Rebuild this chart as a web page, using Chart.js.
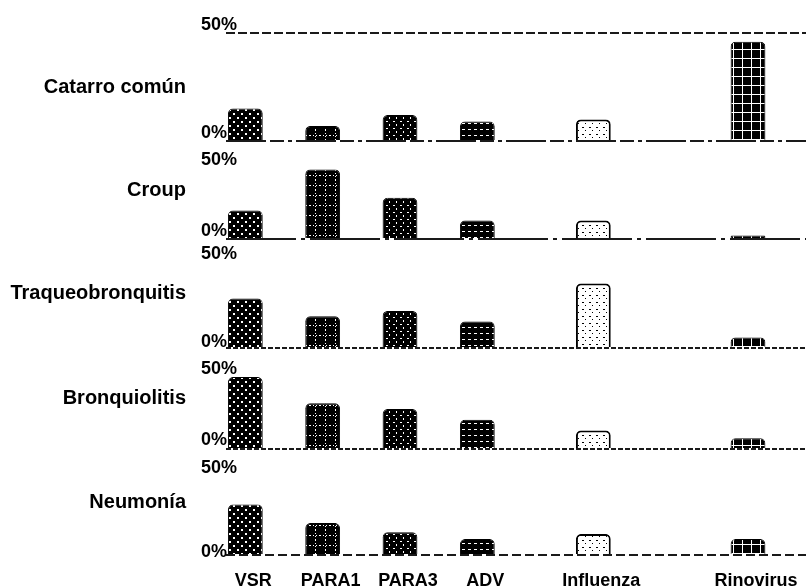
<!DOCTYPE html>
<html lang="es">
<head>
<meta charset="UTF-8">
<title>Virus respiratorios por síndrome</title>
<script src="https://cdn.jsdelivr.net/npm/chart.js"></script>
<style>
  html, body { margin: 0; padding: 0; background: #fff; }
  #caja { position: relative; width: 806px; height: 587px; }
</style>
</head>
<body>
<div id="caja"><canvas id="grafico"></canvas></div>
<script>
// categorías del eje x; los huecos vacíos separan los grupos como en el original
const virus = ['VSR', '', 'PARA1', '', 'PARA3', '', 'ADV', '', '', 'Influenza', '', '', '', 'Rinovirus', ''];
const sindromes = ['Catarro común', 'Croup', 'Traqueobronquitis', 'Bronquiolitis', 'Neumonía'];
// % por virus: VSR, PARA1, PARA3, ADV, Influenza, Rinovirus
const catarroComun = [15, 7, 12, 9, 10, 46];
const croup = [20, 49, 29, 13, 13, 2.5];
const traqueobronquitis = [28, 18, 21, 15, 36.5, 6];
const bronquiolitis = [50.5, 32, 28, 20.5, 13, 7.5];
const neumonia = [30, 19, 13.5, 9.5, 12.5, 9.5];
const ticksY = [0, 50];

const nombresVirus = virus.filter(v => v !== '');
function aRanuras(valores) {
    return virus.map(v => v === '' ? null : valores[nombresVirus.indexOf(v)]);
}

// ajustes de cada panel (tope del eje, alto relativo, trazo de la línea base)
const paneles = [
    { datos: catarroComun, max: 50, peso: 108, offset: -8, trazo: [40, 4, 14, 4, 4, 4] },
    { datos: croup, max: 69, peso: 98, offset: -8, trazo: [70, 5, 4, 5] },
    { datos: traqueobronquitis, max: 61.7, peso: 109, offset: -6, trazo: [5, 2] },
    { datos: bronquiolitis, max: 70.8, peso: 101, offset: -9, trazo: [5, 2] },
    { datos: neumonia, max: 62.9, peso: 106, offset: -3, trazo: [9, 4] }
];

const ctx = document.getElementById('grafico').getContext('2d');

function patron(fondo, dibujar, w, h) {
    const c = document.createElement('canvas');
    c.width = w; c.height = h;
    const g = c.getContext('2d');
    g.fillStyle = fondo;
    g.fillRect(0, 0, w, h);
    g.fillStyle = fondo === '#000' ? '#fff' : '#000';
    dibujar(g);
    return ctx.createPattern(c, 'repeat');
}

const patrones = {
    'VSR': patron('#000', g => { g.fillRect(1, 1, 2, 2); g.fillRect(5, 5, 2, 2); }, 8, 8),
    'PARA1': patron('#000', g => { for (let i = 0; i < 10; i += 3) { g.fillRect(i, 5, 1, 1); g.fillRect(5, i, 1, 1); } }, 10, 10),
    'PARA3': patron('#000', g => { g.fillRect(1, 2, 2, 1); g.fillRect(4, 5, 1, 2); }, 7, 7),
    'ADV': patron('#000', g => { g.fillRect(0, 3, 3, 1); }, 6, 6),
    'Influenza': patron('#fff', g => { g.fillRect(1, 1, 2, 1); g.fillRect(4, 4, 1, 1); }, 7, 7),
    'Rinovirus': patron('#000', g => { g.fillRect(4, 0, 1, 9); g.fillRect(0, 4, 9, 1); }, 9, 9)
};

const fuente = { family: '"Liberation Sans", Arial, sans-serif', weight: 'bold' };

const datasets = paneles.map((p, i) => ({
    label: sindromes[i],
    data: aRanuras(p.datos),
    yAxisID: 'y' + i,
    grouped: false,
    barPercentage: 0.9,
    categoryPercentage: 1,
    backgroundColor: c => patrones[virus[c.dataIndex]] || '#000',
    borderColor: '#000',
    borderWidth: c => virus[c.dataIndex] === 'Influenza' ? 2 : 1,
    borderRadius: { topLeft: 5, topRight: 5 }
}));

const scales = {
    x: {
        type: 'category',
        grid: { display: false },
        border: { display: false },
        afterFit: s => { s.height = 32; },
        ticks: {
            autoSkip: false, maxRotation: 0, padding: 7, labelOffset: 8,
            color: '#000', font: { ...fuente, size: 18 }
        }
    }
};

// los ejes apilados se colocan de abajo hacia arriba: se añaden al revés
paneles.slice().reverse().forEach(p => {
    const i = paneles.indexOf(p);
    scales['y' + i] = {
        type: 'linear',
        position: 'left',
        stack: 'sindromes',
        stackWeight: p.peso,
        min: 0,
        max: p.max,
        afterBuildTicks: s => { s.ticks = ticksY.map(v => ({ value: v })); },
        afterFit: s => { s.width = 25; },
        grid: {
            drawTicks: false,
            lineWidth: 2,
            color: c => (c.tick.value === 0 || i === 0) ? '#1a1a1a' : 'rgba(0,0,0,0)'
        },
        border: {
            display: false,
            dash: c => c.tick.value === 0 ? p.trazo : [9, 3]
        },
        ticks: {
            mirror: true,
            crossAlign: 'near',
            labelOffset: p.offset,
            padding: -25,
            color: '#000',
            font: { ...fuente, size: 18 },
            callback: v => v + '%'
        }
    };
});

const nombresPlugin = {
    id: 'nombresSindrome',
    afterDraw(chart) {
        const c = chart.ctx;
        c.save();
        c.font = 'bold 20px "Liberation Sans", Arial, sans-serif';
        c.fillStyle = '#000';
        c.textAlign = 'right';
        c.textBaseline = 'middle';
        sindromes.forEach((s, i) => {
            const esc = chart.scales['y' + i];
            c.fillText(s, 186, (esc.top + esc.bottom) / 2);
        });
        c.restore();
    }
};

new Chart(ctx, {
    type: 'bar',
    data: { labels: virus, datasets: datasets },
    options: {
        responsive: true,
        maintainAspectRatio: false,
        animation: false,
        layout: { padding: { left: 201, top: 33, right: 0, bottom: 0 } },
        plugins: { legend: { display: false }, tooltip: { enabled: false } },
        scales: scales
    },
    plugins: [nombresPlugin]
});
</script>
</body>
</html>
